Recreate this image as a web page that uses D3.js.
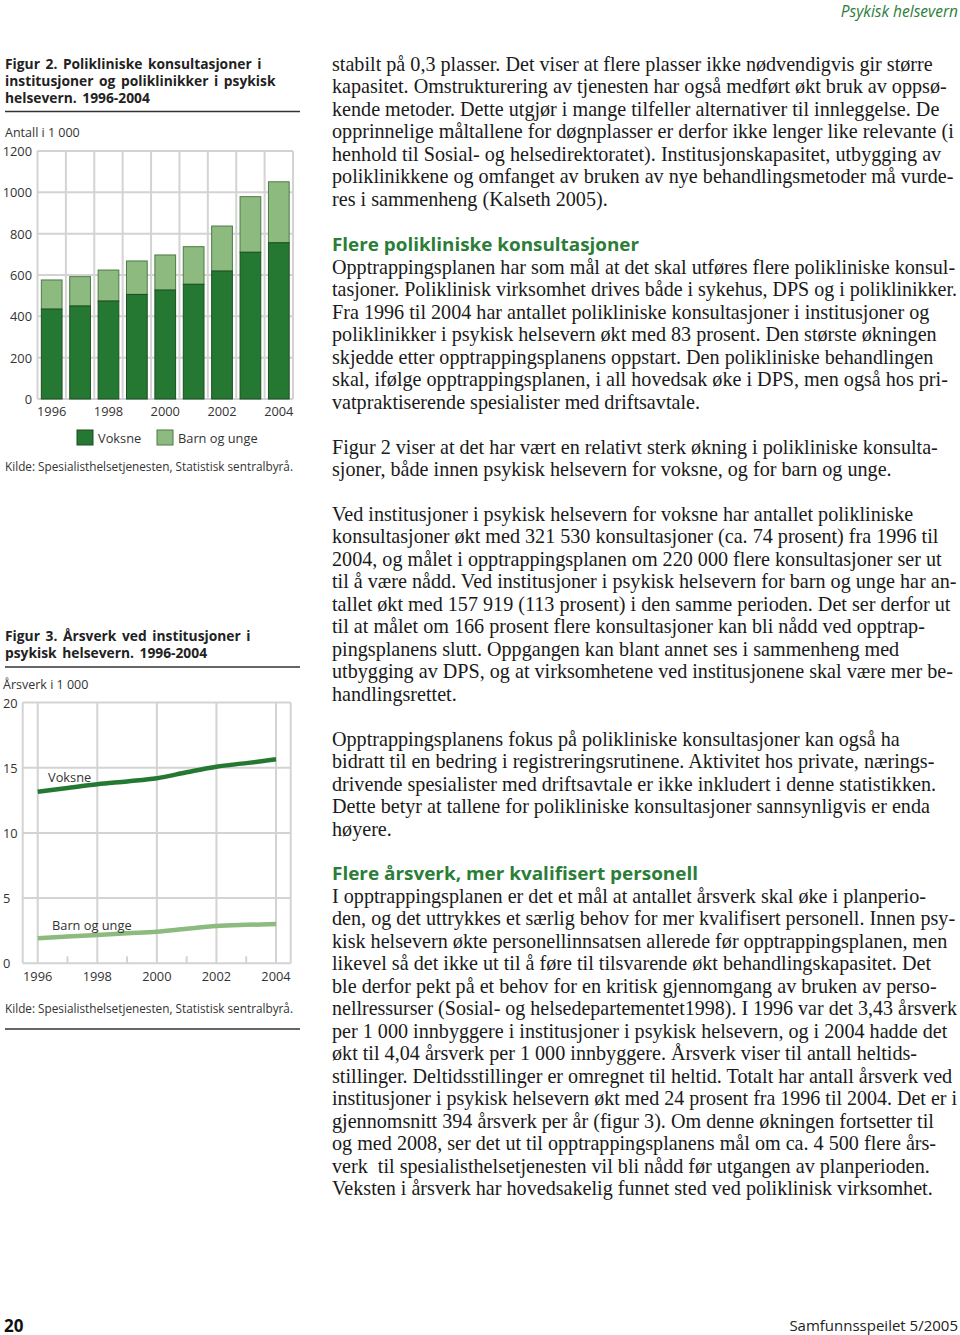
<!DOCTYPE html>
<html><head><meta charset="utf-8">
<script src="https://cdn.jsdelivr.net/npm/d3@7"></script>
<style>body{margin:0;background:#fff} svg{display:block}</style>
</head><body><svg id="c" width="960" height="1335"></svg>
<script>
// ---------- DATA ----------
const years2 = [1996,1997,1998,1999,2000,2001,2002,2003,2004];
const voksne2 = [435,450,474,506,527,555,619,710,756];
const barn2 = [141,142,150,162,170,182,218,269,295];
const yTicks2 = [0,200,400,600,800,1000,1200];
const xTicks2 = [1996,1998,2000,2002,2004];
const seriesNames = ["Voksne","Barn og unge"];

const years3 = [1996,1997,1998,1999,2000,2001,2002,2003,2004];
const voksne3 = [13.16,13.45,13.73,13.95,14.19,14.65,15.08,15.35,15.64];
const barn3 = [1.92,2.05,2.17,2.3,2.42,2.65,2.86,2.95,3.01];
const yTicks3 = [0,5,10,15,20];
const xTicks3 = [1996,1998,2000,2002,2004];
const minorTicks3 = [1997,1999,2001,2003];

// ---------- STYLE ----------
const SANS = "'Open Sans', 'Noto Sans', sans-serif";
const SERIF = "'Liberation Serif', serif";
const DARK = "#257832", LIGHT = "#8dba7e", GRID = "#d3d3d3", TXT = "#333", HEAD = "#2b7d37";
const svg = d3.select("#c");

function txt(x,y,s,opt={}) {
  const t = svg.append("text").attr("x",x).attr("y",y).text(s)
    .attr("font-family", opt.font||SANS).attr("font-size", opt.size||12.5)
    .attr("fill", opt.fill||TXT).attr("dominant-baseline","central");
  if (opt.weight) t.attr("font-weight", opt.weight);
  if (opt.style) t.attr("font-style", opt.style);
  if (opt.anchor) t.attr("text-anchor", opt.anchor);
  if (opt.ws) t.attr("word-spacing", opt.ws);
  if (opt.len) t.attr("textLength", opt.len).attr("lengthAdjust","spacingAndGlyphs");
  return t;
}

// header / footer
txt(958,11,"Psykisk  helsevern",{anchor:"end",style:"italic",size:15.5,fill:HEAD});
txt(4,1325,"20",{weight:"bold",size:17,fill:"#111"});
txt(958,1325,"Samfunnsspeilet 5/2005",{anchor:"end",size:15,fill:"#222"});

// ---------- FIGURE 2 ----------
["Figur 2. Polikliniske konsultasjoner i","institusjoner og poliklinikker i psykisk","helsevern. 1996-2004"]
  .forEach((s,i)=>txt(5,63+i*17,s,{weight:"bold",size:13.8,fill:"#222",ws:2}));
svg.append("line").attr("x1",5).attr("x2",300).attr("y1",111.5).attr("y2",111.5).attr("stroke","#333").attr("stroke-width",1.5);
txt(5,132,"Antall i 1 000",{size:12.5});

const x2 = d3.scaleBand().domain(years2).range([37.5,293]).paddingInner(0.27).paddingOuter(0.135);
const y2 = d3.scaleLinear().domain([0,1200]).range([399,151]);
const g2 = svg.append("g");
g2.selectAll(".hg").data(yTicks2).join("line").attr("x1",37.5).attr("x2",293)
  .attr("y1",d=>y2(d)).attr("y2",d=>y2(d)).attr("stroke",GRID).attr("stroke-width",2);
const step2 = x2.step();
const edges2 = d3.range(years2.length+1).map(i=>37.5+i*step2);
g2.selectAll(".vg").data(edges2).join("line").attr("x1",d=>d).attr("x2",d=>d)
  .attr("y1",151).attr("y2",399).attr("stroke",GRID).attr("stroke-width",2);
const stacked = years2.map((yr,i)=>({yr,v:voksne2[i],b:barn2[i]}));
g2.selectAll(".bb").data(stacked).join("rect")
  .attr("x",d=>x2(d.yr)).attr("width",x2.bandwidth())
  .attr("y",d=>y2(d.v+d.b)).attr("height",d=>y2(d.v)-y2(d.v+d.b))
  .attr("fill",LIGHT).attr("stroke","#4d7a47").attr("stroke-width",1);
g2.selectAll(".bv").data(stacked).join("rect")
  .attr("x",d=>x2(d.yr)).attr("width",x2.bandwidth())
  .attr("y",d=>y2(d.v)).attr("height",d=>y2(0)-y2(d.v))
  .attr("fill",DARK).attr("stroke","#1b4d22").attr("stroke-width",1);
yTicks2.forEach(d=>txt(32,y2(d),d,{anchor:"end",size:12.8}));
xTicks2.forEach(d=>txt(x2(d)+x2.bandwidth()/2,411,d,{anchor:"middle",size:12.8}));
const leg = [{x:77,c:DARK,s:"#1b4d22"},{x:157,c:LIGHT,s:"#4d7a47"}];
leg.forEach((l,i)=>{
  svg.append("rect").attr("x",l.x).attr("y",430).attr("width",16).attr("height",15).attr("fill",l.c).attr("stroke",l.s);
  txt(l.x+21,438,seriesNames[i],{size:12.8});
});
txt(5,466,"Kilde: Spesialisthelsetjenesten, Statistisk sentralbyrå.",{size:12.5,len:288});

// ---------- FIGURE 3 ----------
["Figur 3. Årsverk ved institusjoner i","psykisk helsevern. 1996-2004"]
  .forEach((s,i)=>txt(5,635+i*17.5,s,{weight:"bold",size:13.8,fill:"#222",ws:2}));
svg.append("line").attr("x1",5).attr("x2",300).attr("y1",667).attr("y2",667).attr("stroke","#333").attr("stroke-width",1.5);
txt(3,684,"Årsverk i 1 000",{size:12.5});

const x3 = d3.scaleLinear().domain([1996,2004]).range([37.7,276]);
const y3 = d3.scaleLinear().domain([0,20]).range([963.3,702.5]);
const L3 = 22.7, R3 = 290.7;
const g3 = svg.append("g");
g3.selectAll(".hg").data(yTicks3).join("line").attr("x1",L3).attr("x2",R3)
  .attr("y1",d=>y3(d)).attr("y2",d=>y3(d)).attr("stroke",GRID).attr("stroke-width",2);
g3.selectAll(".vg").data(xTicks3.map(x3).concat([L3,R3])).join("line")
  .attr("x1",d=>d).attr("x2",d=>d).attr("y1",y3(20)).attr("y2",y3(0)).attr("stroke",GRID).attr("stroke-width",2);
g3.selectAll(".mt").data(minorTicks3).join("line").attr("x1",d=>x3(d)).attr("x2",d=>x3(d))
  .attr("y1",y3(0)-7).attr("y2",y3(0)).attr("stroke",GRID).attr("stroke-width",2);
const line3 = d3.line().x((d,i)=>x3(years3[i])).y(d=>y3(d)).curve(d3.curveMonotoneX);
g3.append("path").attr("d",line3(voksne3)).attr("fill","none").attr("stroke",DARK).attr("stroke-width",4.5);
g3.append("path").attr("d",line3(barn3)).attr("fill","none").attr("stroke",LIGHT).attr("stroke-width",4.5);
yTicks3.forEach(d=>txt(3,y3(d),d,{size:12.8}));
xTicks3.forEach(d=>txt(x3(d),976,d,{anchor:"middle",size:12.8}));
txt(48,777,seriesNames[0],{size:12.8});
txt(52,925,seriesNames[1],{size:12.8});
txt(5,1008,"Kilde: Spesialisthelsetjenesten, Statistisk sentralbyrå.",{size:12.5,len:288});
svg.append("line").attr("x1",5).attr("x2",300).attr("y1",1029).attr("y2",1029).attr("stroke","#333").attr("stroke-width",1.5);

// ---------- BODY TEXT ----------
const blocks = [
 {y:64, lines:[
  "stabilt på 0,3 plasser. Det viser at flere plasser ikke nødvendigvis gir større",
  "kapasitet. Omstrukturering av tjenesten har også medført økt bruk av oppsø-",
  "kende metoder. Dette utgjør i mange tilfeller alternativer til innleggelse. De",
  "opprinnelige måltallene for døgnplasser er derfor ikke lenger like relevante (i",
  "henhold til Sosial- og helsedirektoratet). Institusjonskapasitet, utbygging av",
  "poliklinikkene og omfanget av bruken av nye behandlingsmetoder må vurde-",
  "res i sammenheng (Kalseth 2005)."]},
 {y:244, head:"Flere polikliniske konsultasjoner", w:307},
 {y:267, lines:[
  "Opptrappingsplanen har som mål at det skal utføres flere polikliniske konsul-",
  "tasjoner. Poliklinisk virksomhet drives både i sykehus, DPS og i poliklinikker.",
  "Fra 1996 til 2004 har antallet polikliniske konsultasjoner i institusjoner og",
  "poliklinikker i psykisk helsevern økt med 83 prosent. Den største økningen",
  "skjedde etter opptrappingsplanens oppstart. Den polikliniske behandlingen",
  "skal, ifølge opptrappingsplanen, i all hovedsak øke i DPS, men også hos pri-",
  "vatpraktiserende spesialister med driftsavtale."]},
 {y:447, lines:[
  "Figur 2 viser at det har vært en relativt sterk økning i polikliniske konsulta-",
  "sjoner, både innen psykisk helsevern for voksne, og for barn og unge."]},
 {y:514, lines:[
  "Ved institusjoner i psykisk helsevern for voksne har antallet polikliniske",
  "konsultasjoner økt med 321 530 konsultasjoner (ca. 74 prosent) fra 1996 til",
  "2004, og målet i opptrappingsplanen om 220 000 flere konsultasjoner ser ut",
  "til å være nådd. Ved institusjoner i psykisk helsevern for barn og unge har an-",
  "tallet økt med 157 919 (113 prosent) i den samme perioden. Det ser derfor ut",
  "til at målet om 166 prosent flere konsultasjoner kan bli nådd ved opptrap-",
  "pingsplanens slutt. Oppgangen kan blant annet ses i sammenheng med",
  "utbygging av DPS, og at virksomhetene ved institusjonene skal være mer be-",
  "handlingsrettet."]},
 {y:739, lines:[
  "Opptrappingsplanens fokus på polikliniske konsultasjoner kan også ha",
  "bidratt til en bedring i registreringsrutinene. Aktivitet hos private, nærings-",
  "drivende spesialister med driftsavtale er ikke inkludert i denne statistikken.",
  "Dette betyr at tallene for polikliniske konsultasjoner sannsynligvis er enda",
  "høyere."]},
 {y:873, head:"Flere årsverk, mer kvalifisert personell", w:366},
 {y:896, lines:[
  "I opptrappingsplanen er det et mål at antallet årsverk skal øke i planperio-",
  "den, og det uttrykkes et særlig behov for mer kvalifisert personell. Innen psy-",
  "kisk helsevern økte personellinnsatsen allerede før opptrappingsplanen, men",
  "likevel så det ikke ut til å føre til tilsvarende økt behandlingskapasitet. Det",
  "ble derfor pekt på et behov for en kritisk gjennomgang av bruken av perso-",
  "nellressurser (Sosial- og helsedepartementet1998). I 1996 var det 3,43 årsverk",
  "per 1 000 innbyggere i institusjoner i psykisk helsevern, og i 2004 hadde det",
  "økt til 4,04 årsverk per 1 000 innbyggere. Årsverk viser til antall heltids-",
  "stillinger. Deltidsstillinger er omregnet til heltid. Totalt har antall årsverk ved",
  "institusjoner i psykisk helsevern økt med 24 prosent fra 1996 til 2004. Det er i",
  "gjennomsnitt 394 årsverk per år (figur 3). Om denne økningen fortsetter til",
  "og med 2008, ser det ut til opptrappingsplanens mål om ca. 4 500 flere års-",
  "verk  til spesialisthelsetjenesten vil bli nådd før utgangen av planperioden.",
  "Veksten i årsverk har hovedsakelig funnet sted ved poliklinisk virksomhet."]}
];
const probe = txt(0,-100,blocks[0].lines[0],{font:SERIF,size:17});
const w = probe.node().getComputedTextLength(); probe.remove();
const FS = 17*601/w;
const LH = 22.46;
const MAXW = 625;
blocks.forEach(b=>{
  if (b.head) txt(332,b.y,b.head,{font:SANS,weight:"bold",size:17.5,fill:HEAD,len:b.w});
  else b.lines.forEach((s,i)=>{
    const t = txt(332,b.y+i*LH,s,{font:SERIF,size:FS,fill:"#1a1a1a"}).attr("xml:space","preserve").style("white-space","pre");
    if (t.node().getComputedTextLength() > MAXW) t.attr("textLength",MAXW).attr("lengthAdjust","spacingAndGlyphs");
  });
});
</script></body></html>
